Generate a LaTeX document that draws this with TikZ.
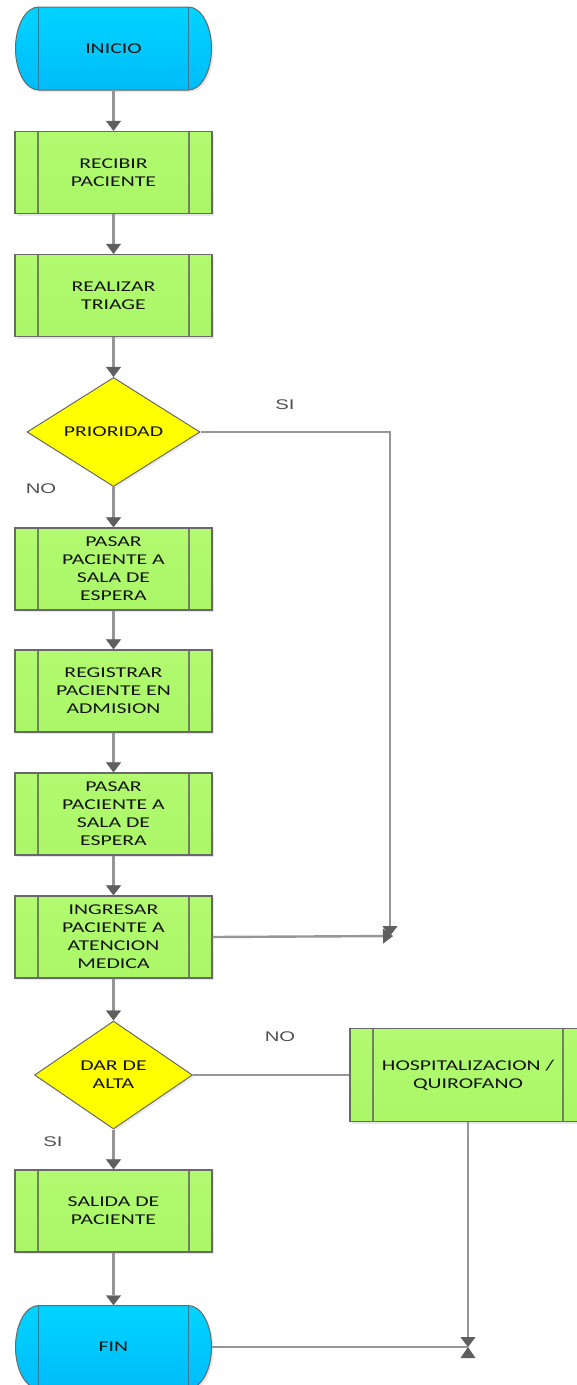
\documentclass[tikz,border=0pt]{standalone}
\usepackage{fontspec}
\usetikzlibrary{shapes.geometric,arrows.meta,shadows}
\newfontfamily\boxfont[FakeStretch=1.45]{Carlito}
\newfontfamily\tagfont[FakeStretch=1.45]{Liberation Sans}
\definecolor{procfill}{RGB}{170,247,104}
\definecolor{procfilltop}{RGB}{178,250,112}
\definecolor{termtop}{RGB}{0,212,255}
\definecolor{termbot}{RGB}{0,188,250}
\definecolor{decfill}{RGB}{255,255,0}
\definecolor{edgegray}{RGB}{105,105,105}
\definecolor{innergray}{RGB}{112,130,96}
\definecolor{termline}{RGB}{60,120,150}
\definecolor{wire}{RGB}{150,150,150}
\definecolor{tipgray}{RGB}{95,95,95}
\definecolor{txt}{RGB}{20,20,20}
\definecolor{tagtxt}{RGB}{80,80,80}
\tikzset{
  procbox/.style={draw=edgegray, line width=1.2pt, top color=procfilltop, bottom color=procfill,
    minimum width=197pt, minimum height=82pt, inner sep=0pt, align=center,
    font=\boxfont\fontsize{15}{18}\selectfont, text=txt,
    drop shadow={opacity=0.2, shadow xshift=2pt, shadow yshift=-2pt},
    path picture={
      \draw[innergray, line width=1.6pt]
        ([xshift=23pt]path picture bounding box.north west) -- ([xshift=23pt]path picture bounding box.south west)
        ([xshift=-23pt]path picture bounding box.north east) -- ([xshift=-23pt]path picture bounding box.south east);
    }},
  decision/.style={diamond, draw=edgegray, line width=1pt, fill=decfill, inner sep=0pt,
    align=center, font=\boxfont\fontsize{15}{18}\selectfont, text=txt,
    drop shadow={opacity=0.15, shadow xshift=2pt, shadow yshift=-2pt}},
  termtext/.style={minimum width=196pt, minimum height=83pt, inner sep=0pt,
    font=\boxfont\fontsize{15}{18}\selectfont, text=txt},
  flow/.style={draw=wire, line width=2.4pt, -{Triangle[width=15pt,length=10pt,color=tipgray,fill=tipgray,line width=0.4pt]}},
  plainflow/.style={draw=wire, line width=2.4pt},
  tag/.style={font=\tagfont\fontsize{14}{16}\selectfont, text=tagtxt}
}
% terminator outline with elliptical ends; #1 = centre
\newcommand{\termshape}[1]{%
  \path[draw=edgegray, line width=1pt, top color=termtop, bottom color=termbot,
        drop shadow={opacity=0.2, shadow xshift=2pt, shadow yshift=-2pt}]
    ([shift={(-75,-41.5)}]#1) -- ([shift={(75,-41.5)}]#1)
    arc[start angle=-90, end angle=90, x radius=23, y radius=41.5]
    -- ([shift={(-75,41.5)}]#1)
    arc[start angle=90, end angle=270, x radius=23, y radius=41.5] -- cycle;
  \draw[termline, line width=1.6pt]
    ([shift={(-75,-41.5)}]#1) -- ([shift={(-75,41.5)}]#1)
    ([shift={(75,-41.5)}]#1) -- ([shift={(75,41.5)}]#1);
}
\begin{document}
\begin{tikzpicture}[x=1pt,y=-1pt]
\useasboundingbox (0,0) rectangle (577,1385);

% terminators
\coordinate (inic) at (113.5,48.5);
\termshape{inic}
\node[termtext] (inicio) at (inic) {INICIO};
\coordinate (finc) at (113.5,1347);
\termshape{finc}
\node[termtext] (fin) at (finc) {FIN};

% process steps
\node[procbox] (recibir) at (113.5,172.5) {RECIBIR\\PACIENTE};
\node[procbox] (triage) at (113.5,295.5) {REALIZAR\\TRIAGE};
\node[decision, minimum width=173pt, minimum height=108pt] (prioridad) at (113.5,432) {PRIORIDAD};
\node[procbox] (espera1) at (113.5,569) {PASAR\\PACIENTE A\\SALA DE\\ESPERA};
\node[procbox] (admision) at (113.5,691) {REGISTRAR\\PACIENTE EN\\ADMISION};
\node[procbox] (espera2) at (113.5,814) {PASAR\\PACIENTE A\\SALA DE\\ESPERA};
\node[procbox] (atencion) at (113.5,937) {INGRESAR\\PACIENTE A\\ATENCION\\MEDICA};
\node[decision, minimum width=158pt, minimum height=108pt] (alta) at (113.5,1075) {DAR DE\\ALTA};
\node[procbox, minimum width=236pt, minimum height=93pt] (hosp) at (468,1075) {HOSPITALIZACION /\\QUIROFANO};
\node[procbox] (salida) at (113.5,1211) {SALIDA DE\\PACIENTE};

% junction points
\coordinate (merge) at (390,936);
\coordinate (joinfin) at (468,1347);

% connectors
\draw[flow] (inicio) -- (recibir);
\draw[flow] (recibir) -- (triage);
\draw[flow] (triage) -- (prioridad);
\draw[flow] (prioridad) -- (espera1);
\draw[flow] (espera1) -- (admision);
\draw[flow] (admision) -- (espera2);
\draw[flow] (espera2) -- (atencion);
\draw[flow] (prioridad.east) -| (merge);
\draw[flow] (atencion.east) -- ([xshift=3pt]merge);
\draw[flow] (atencion) -- (alta);
\draw[plainflow] (alta.east) -- (hosp.west);
\draw[flow] (alta) -- (salida);
\draw[flow] (salida) -- (fin);
\draw[flow] (hosp.south) -- (joinfin);
\draw[plainflow] (fin.east) -- (joinfin);
\fill[tipgray] (joinfin) -- ++(-7.5,11) -- ++(15,0) -- cycle;

% branch labels
\node[tag] (si1) at (285,405) {SI};
\node[tag] (no1) at (41,489) {NO};
\node[tag] (no2) at (280,1037) {NO};
\node[tag] (si2) at (53,1142) {SI};
\end{tikzpicture}
\end{document}
